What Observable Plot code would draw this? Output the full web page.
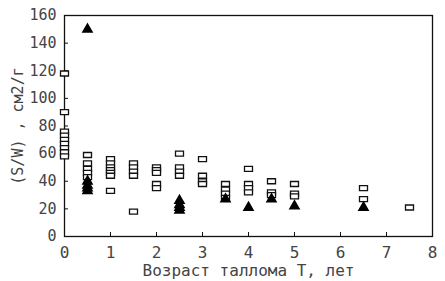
<!DOCTYPE html>
<html><head><meta charset="utf-8">
<script src="https://cdn.jsdelivr.net/npm/d3@7"></script>
<script src="https://cdn.jsdelivr.net/npm/@observablehq/plot@0.6"></script>
<style>body{margin:0;background:#fff}</style>
</head><body><div id="chart"></div>
<script>
const sqAge = [0,0,0,0,0,0,0,0,0, 0.5,0.5,0.5,0.5,0.5, 1,1,1,1,1,1,1, 1.5,1.5,1.5,1.5,1.5, 2,2,2,2,2, 2.5,2.5,2.5,2.5, 3,3,3,3, 3.5,3.5,3.5,3.5, 4,4,4,4, 4.5,4.5,4.5, 5,5,5, 6.5,6.5, 7.5];
const sqVal = [118,90,76,73,70,67,64,61,58, 59,53,49,46,43, 56,53,50,48,46,44,33, 53,50,47,44,18, 50,48,46,38,35, 60,50,47,44, 56,44,40,38, 38,34,31,28, 49,38,35,32, 40,32,30, 38,31,29, 35,27, 21];
const triAge = [0.5,0.5,0.5,0.5,0.5, 2.5,2.5,2.5,2.5, 3.5, 4, 4.5, 5, 6.5];
const triVal = [150,40,37,35,33, 26,23,21,19, 27, 21, 27, 22, 21];
const xTicks = [0,1,2,3,4,5,6,7,8];
const yTicks = [0,20,40,60,80,100,120,140,160];

const squares = sqAge.map((a,i)=>({a, v: sqVal[i]}));
const tris = triAge.map((a,i)=>({a, v: triVal[i]}));

const rectSym = {draw(ctx, size){ const w = 4, h = 2.5; ctx.moveTo(-w,-h); ctx.lineTo(w,-h); ctx.lineTo(w,h); ctx.lineTo(-w,h); ctx.closePath(); }};

const font = "DejaVu Sans Mono";
const chart = Plot.plot({
  width: 445, height: 281,
  marginLeft: 64, marginRight: 13, marginTop: 15, marginBottom: 45,
  style: {fontFamily: font, fontSize: "15px", color: "#444", background: "#fff"},
  x: {domain: [0,8]},
  y: {domain: [0,160]},
  marks: [
    Plot.frame({stroke: "#111", strokeWidth: 1.3}),
    Plot.axisX({ticks: xTicks, tickSize: 0, tickPadding: 10, fontSize: 16, label: "Возраст таллома Т, лет", labelAnchor: "center", labelArrow: "none", labelOffset: 39}),
    Plot.axisX({ticks: xTicks, tickSize: 4, dy: -4, text: null, label: null, stroke: "#111"}),
    Plot.axisY({ticks: yTicks, tickSize: 0, tickPadding: 8, fontSize: 15, label: "(S/W) , см2/г", labelAnchor: "center", labelArrow: "none", labelOffset: 52}),
    Plot.axisY({ticks: yTicks, tickSize: 4, dx: 4, text: null, label: null, stroke: "#111"}),
    Plot.dot(squares, {x: "a", y: "v", symbol: rectSym, stroke: "#111", strokeWidth: 1.3, fill: "white", r: 3}),
    Plot.dot(tris, {x: "a", y: "v", symbol: "triangle", fill: "#000", stroke: "#000", r: 3.4})
  ]
});
document.getElementById("chart").append(chart);
</script></body></html>
